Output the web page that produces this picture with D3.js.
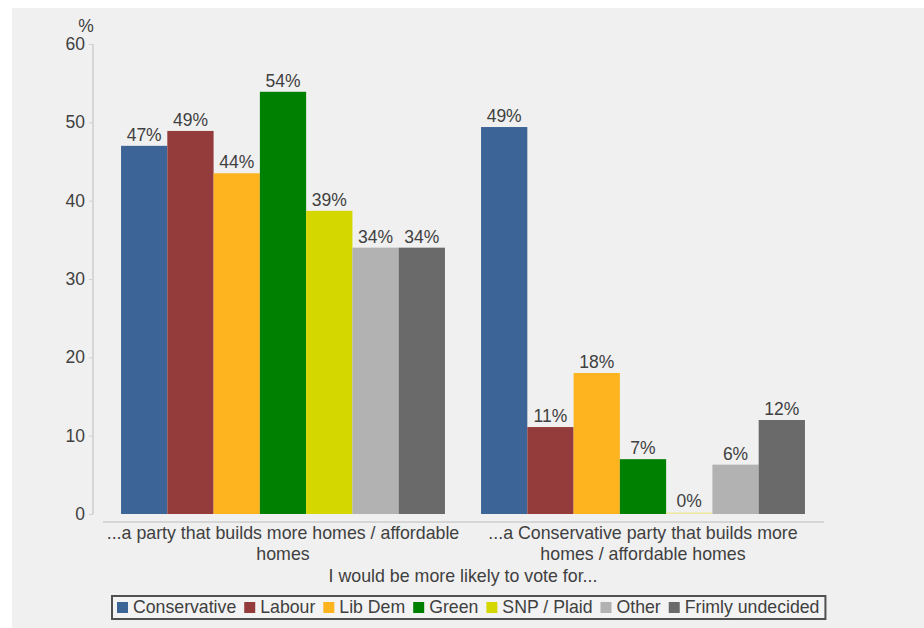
<!DOCTYPE html>
<html>
<head>
<meta charset="utf-8">
<script src="https://cdn.jsdelivr.net/npm/d3@7"></script>
<style>
  html, body { margin: 0; padding: 0; background: #ffffff; }
  svg { display: block; }
  text { font-family: "Liberation Sans", Arial, sans-serif; fill: #404040; }
</style>
</head>
<body>
<svg id="chart" width="924" height="628"></svg>
<script>
// ---- data ----
const categories = ["group1", "group2"];
const categoryLines = [
  ["...a party that builds more homes / affordable", "homes"],
  ["...a Conservative party that builds more", "homes / affordable homes"]
];
const series = ["Conservative", "Labour", "Lib Dem", "Green", "SNP / Plaid", "Other", "Frimly undecided"];
const seriesColors = ["#3c6496", "#943b3b", "#fdb41f", "#008000", "#d4d800", "#b2b2b2", "#6a6a6a"];
const valuesGroup1 = [47.0, 48.9, 43.5, 53.9, 38.7, 34.0, 34.0];
const valuesGroup2 = [49.4, 11.1, 18.0, 7.0, 0.2, 6.3, 12.0];
const valueLabels1 = ["47%", "49%", "44%", "54%", "39%", "34%", "34%"];
const valueLabels2 = ["49%", "11%", "18%", "7%", "0%", "6%", "12%"];
const yTicks = [0, 10, 20, 30, 40, 50, 60];
const yUnit = "%";
const xTitle = "I would be more likely to vote for...";

const groupValues = [valuesGroup1, valuesGroup2];
const groupLabels = [valueLabels1, valueLabels2];

// ---- layout ----
const svg = d3.select("#chart");
const W = 924, H = 628;
svg.append("rect").attr("x", 0).attr("y", 0).attr("width", W).attr("height", H).attr("fill", "#ffffff");
svg.append("rect").attr("x", 12).attr("y", 8).attr("width", W - 12).attr("height", H - 8).attr("fill", "#f0f0f0");

const plotLeft = 103, plotRight = 823, yTop = 44, yBottom = 514;
const y = d3.scaleLinear().domain([0, 60]).range([yBottom, yTop]);
const x0 = d3.scaleBand().domain(categories).range([plotLeft, plotRight]).padding(0);
const x1 = d3.scaleBand().domain(series).range([0, x0.bandwidth()]).paddingOuter(0.39).paddingInner(0);

const fs = "17.5px";

// y axis
const yAxis = d3.axisLeft(y).tickValues(yTicks).tickSize(4).tickPadding(4);
const gy = svg.append("g").attr("transform", "translate(93,0)").call(yAxis);
gy.select(".domain").remove();
gy.selectAll(".tick line").attr("stroke", "#d0d0d0");
gy.selectAll(".tick text").style("font-size", fs).attr("fill", "#404040")
  .style("font-family", "'Liberation Sans', Arial, sans-serif");
svg.append("line").attr("x1", 93).attr("x2", 93).attr("y1", yTop).attr("y2", yBottom)
  .attr("stroke", "#d6d6d6").attr("stroke-width", 2);
svg.append("text").attr("x", 86).attr("y", 32).attr("text-anchor", "middle")
  .style("font-size", fs).text(yUnit);

// x axis line
svg.append("line").attr("x1", plotLeft).attr("x2", plotRight + 1).attr("y1", 522).attr("y2", 522)
  .attr("stroke", "#d6d6d6").attr("stroke-width", 2);

// bars
categories.forEach((c, gi) => {
  const g = svg.append("g").attr("transform", `translate(${x0(c)},0)`);
  series.forEach((s, si) => {
    const v = groupValues[gi][si];
    const isZero = groupLabels[gi][si] === "0%";
    const h = Math.max(y(0) - y(v), 1.5);
    g.append("rect")
      .attr("x", x1(s))
      .attr("y", y(0) - h)
      .attr("width", x1.bandwidth())
      .attr("height", h)
      .attr("fill", isZero ? "#ece9a0" : seriesColors[si]);
    g.append("text")
      .attr("x", x1(s) + x1.bandwidth() / 2)
      .attr("y", y(v) - 5)
      .attr("text-anchor", "middle")
      .style("font-size", fs)
      .text(groupLabels[gi][si]);
  });
  // category label
  categoryLines[gi].forEach((line, li) => {
    svg.append("text")
      .attr("x", x0(c) + x0.bandwidth() / 2)
      .attr("y", 539 + li * 21)
      .attr("text-anchor", "middle")
      .style("font-size", "17.8px")
      .text(line);
  });
});

// x title
svg.append("text").attr("x", (plotLeft + plotRight) / 2).attr("y", 582)
  .attr("text-anchor", "middle").style("font-size", "17.8px").text(xTitle);

// legend
const legendG = svg.append("g");
const box = legendG.append("rect").attr("y", 596).attr("height", 23)
  .attr("fill", "#f3f3f3").attr("stroke", "#505050").attr("stroke-width", 2);
let cx = 117;
series.forEach((s, si) => {
  legendG.append("rect").attr("x", cx).attr("y", 602).attr("width", 11).attr("height", 11)
    .attr("fill", seriesColors[si]);
  const t = legendG.append("text").attr("x", cx + 16).attr("y", 613)
    .style("font-size", "17.7px").text(s);
  const w = t.node().getComputedTextLength();
  cx = cx + 16 + w + 8;
});
const legendRight = cx - 8 + 6;
box.attr("x", 112).attr("width", legendRight - 112);
</script>
</body>
</html>
